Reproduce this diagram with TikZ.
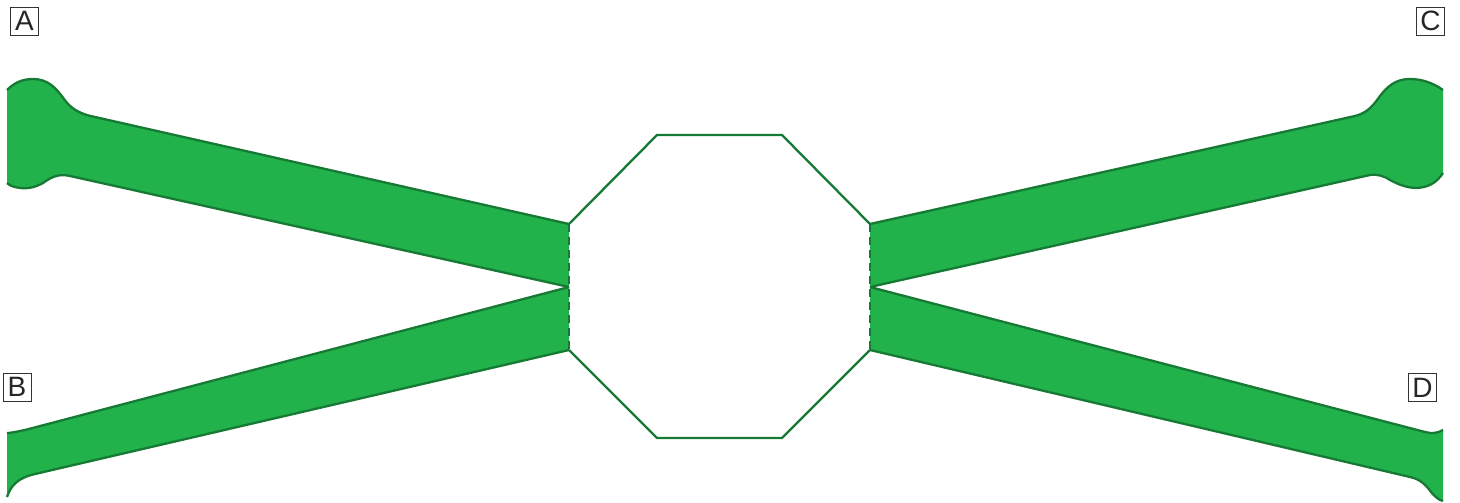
\documentclass[tikz,border=0pt]{standalone}
\usepackage{fontspec}
\setmainfont{Liberation Sans}
\usepackage{xcolor}
\usetikzlibrary{positioning,calc}

\definecolor{chanfill}{RGB}{34,178,76}
\definecolor{chanline}{RGB}{22,122,52}

\begin{document}
\begin{tikzpicture}[x=1pt,y=-1pt,
    armfill/.style={fill=chanfill},
    armline/.style={draw=chanline,line width=2.3pt,line join=round},
    rim/.style={draw=chanline,line width=2.3pt},
    rimdash/.style={draw=chanline,line width=2.6pt,dash pattern=on 8pt off 5pt},
    lbl/.style={draw=black!80,line width=0.8pt,minimum size=28pt,inner sep=0pt,
      font=\fontsize{28}{28}\selectfont,text=black!85}]
  \useasboundingbox (0,0) rectangle (1460,503);
  % hub corners
  \coordinate (t1) at (657,135);
  \coordinate (t2) at (782,135);
  \coordinate (r1) at (870,224);
  \coordinate (rm) at (870,287);
  \coordinate (r2) at (870,350);
  \coordinate (b2) at (782,438);
  \coordinate (b1) at (657,438);
  \coordinate (l2) at (569,350);
  \coordinate (lm) at (569,287);
  \coordinate (l1) at (569,224);
  % arm A
  \fill[armfill] (7,90) .. controls (14,83) and (22,79) .. (33,79)
    .. controls (48,79) and (56,88) .. (64,99)
    .. controls (71,109) and (80,114) .. (95,117) -- (l1) -- (lm) -- (70,176)
    .. controls (58,173) and (50,178) .. (43,183)
    .. controls (36,187) and (28,189) .. (20,188)
    .. controls (14,187) and (10,186) .. (7,183) -- cycle;
  \draw[armline] (7,90) .. controls (14,83) and (22,79) .. (33,79)
    .. controls (48,79) and (56,88) .. (64,99)
    .. controls (71,109) and (80,114) .. (95,117) -- (l1);
  \draw[armline] (lm) -- (70,176)
    .. controls (58,173) and (50,178) .. (43,183)
    .. controls (36,187) and (28,189) .. (20,188)
    .. controls (14,187) and (10,186) .. (7,183);
  % arm B
  \fill[armfill] (lm) -- (25,430) .. controls (15,432) and (11,433) .. (7,433)
    -- (7,497) .. controls (11,485) and (18,478) .. (35,474) -- (l2) -- cycle;
  \draw[armline] (lm) -- (25,430) .. controls (15,432) and (11,433) .. (7,433);
  \draw[armline] (7,497) .. controls (11,485) and (18,478) .. (35,474) -- (l2);
  % arm C
  \fill[armfill] (r1) -- (1355,116) .. controls (1367,113) and (1373,106) .. (1380,96)
    .. controls (1387,87) and (1395,79) .. (1410,79)
    .. controls (1420,79) and (1432,82) .. (1443,90) -- (1443,173)
    .. controls (1437,182) and (1430,187) .. (1417,188)
    .. controls (1405,188) and (1396,183) .. (1390,180)
    .. controls (1384,176) and (1378,174) .. (1370,175) -- (rm) -- cycle;
  \draw[armline] (r1) -- (1355,116) .. controls (1367,113) and (1373,106) .. (1380,96)
    .. controls (1387,87) and (1395,79) .. (1410,79)
    .. controls (1420,79) and (1432,82) .. (1443,90);
  \draw[armline] (1443,173) .. controls (1437,182) and (1430,187) .. (1417,188)
    .. controls (1405,188) and (1396,183) .. (1390,180)
    .. controls (1384,176) and (1378,174) .. (1370,175) -- (rm);
  % arm D
  \fill[armfill] (rm) -- (1425,432) .. controls (1432,434) and (1438,433) .. (1443,430)
    -- (1443,501) .. controls (1439,500) and (1435,497) .. (1431,492)
    .. controls (1426,485) and (1420,479) .. (1410,477) -- (r2) -- cycle;
  \draw[armline] (rm) -- (1425,432) .. controls (1432,434) and (1438,433) .. (1443,430);
  \draw[armline] (1443,501) .. controls (1439,500) and (1435,497) .. (1431,492)
    .. controls (1426,485) and (1420,479) .. (1410,477) -- (r2);
  % hub
  \draw[rim] (l1) -- (t1) -- (t2) -- (r1);
  \draw[rim] (r2) -- (b2) -- (b1) -- (l2);
  \draw[rimdash] (l1) -- (l2);
  \draw[rimdash] (r1) -- (r2);
  % port labels
  \node[lbl] (labA) at (24.5,21) {A};
  \node[lbl] (labB) at (17,387) {B};
  \node[lbl] (labC) at (1430.5,21) {C};
  \node[lbl] (labD) at (1422.5,387.5) {D};
\end{tikzpicture}
\end{document}
